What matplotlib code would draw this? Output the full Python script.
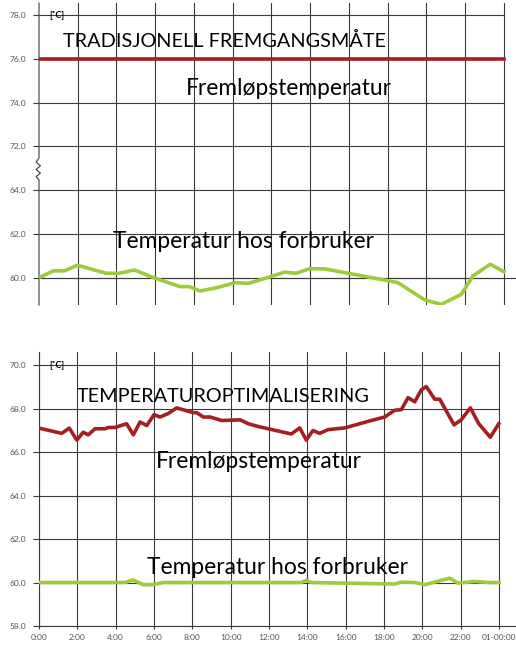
import numpy as np
import matplotlib
matplotlib.use('Agg')
import matplotlib.pyplot as plt

# ---- data ----
hour_ticks = list(range(0, 25, 2))
hour_labels = ['0:00', '2:00', '4:00', '6:00', '8:00', '10:00', '12:00',
               '14:00', '16:00', '18:00', '20:00', '22:00', '01-00:00']

# traditional method
trad_supply_t = [0, 24]
trad_supply = [76.0, 76.0]
trad_user_t = [0, 0.74, 1.31, 1.98, 3.46, 4.14, 4.92, 6.0, 7.28, 7.76, 8.31,
               9.17, 10.12, 10.8, 11.39, 12.68, 13.28, 13.97, 14.75, 15.95,
               17.84, 18.53, 19.91, 20.76, 21.8, 22.4, 23.29, 24.0]
trad_user = [60.0, 60.31, 60.31, 60.57, 60.2, 60.2, 60.35, 59.97, 59.59, 59.59,
             59.39, 59.54, 59.77, 59.74, 59.89, 60.25, 60.2, 60.41, 60.4, 60.2,
             59.89, 59.77, 58.98, 58.78, 59.24, 60.08, 60.61, 60.27]

# temperature optimisation
opt_supply_t = [0, 1.18, 1.58, 1.97, 2.31, 2.57, 2.92, 3.44, 3.61, 3.96, 4.57,
                4.92, 5.27, 5.62, 6.0, 6.31, 6.74, 7.18, 8.05, 8.23, 8.57, 8.92,
                9.53, 10.49, 10.92, 11.45, 13.16, 13.6, 13.94, 14.29, 14.64,
                15.08, 15.51, 15.95, 17.33, 18.03, 18.55, 18.9, 19.25, 19.6,
                19.94, 20.2, 20.64, 20.9, 21.65, 22.03, 22.5, 22.94, 23.54, 23.98]
opt_supply = [67.1, 66.86, 67.1, 66.55, 66.91, 66.79, 67.07, 67.07, 67.13, 67.13,
              67.3, 66.79, 67.38, 67.22, 67.72, 67.61, 67.77, 68.03, 67.81, 67.81,
              67.61, 67.61, 67.45, 67.48, 67.3, 67.17, 66.83, 67.11, 66.55, 66.99,
              66.86, 67.03, 67.07, 67.11, 67.45, 67.61, 67.92, 67.95, 68.5, 68.31,
              68.86, 69.01, 68.43, 68.43, 67.25, 67.49, 68.03, 67.3, 66.68, 67.3]
opt_user_t = [0, 4.49, 4.89, 5.44, 5.96, 6.48, 13.68, 13.94, 14.2, 18.55, 18.9,
              19.6, 20.12, 21.42, 21.86, 22.73, 23.42, 24.0]
opt_user = [60.0, 60.0, 60.12, 59.9, 59.9, 60.0, 60.0, 60.1, 60.0, 59.93, 60.02,
            60.0, 59.9, 60.2, 59.97, 60.05, 60.0, 60.0]

top_yticks = [60, 62, 64, 72, 74, 76, 78]
bot_yticks = [58, 60, 62, 64, 66, 68, 70]

RED = '#a51e22'
GREEN = '#9dcb3a'
GRID = '#3a3a3a'
LBL = '#555555'
FONT = ['Lato', 'DejaVu Sans']
CAPS = 14.3
BODY = 16.4


# broken y axis for the top chart: 64..72 squeezed into one step
def fwd(y):
    y = np.asarray(y, dtype=float)
    return np.where(y <= 64, y, np.where(y >= 72, y - 6, 64 + (y - 64) * 0.25))


def inv(z):
    z = np.asarray(z, dtype=float)
    return np.where(z <= 64, z, np.where(z >= 66, z + 6, 64 + (z - 64) * 4))


fig = plt.figure(figsize=(5.16, 6.45), dpi=100)
ax1 = fig.add_axes([39 / 516, 1 - 305 / 645, 477 / 516, 302 / 645])
ax2 = fig.add_axes([39 / 516, 1 - 626 / 645, 477 / 516, 274 / 645])


def style(ax, yticks, xmax, ybase):
    ax.set_xlim(0, xmax)
    for s in ['top', 'right', 'left']:
        ax.spines[s].set_visible(False)
    ax.spines['bottom'].set_position(('data', ybase))
    ax.spines['bottom'].set_color(GRID)
    ax.spines['bottom'].set_linewidth(0.8)
    ax.set_yticks(yticks)
    ax.set_yticklabels(['%.1f' % v for v in yticks])
    ax.tick_params(axis='y', length=4.5, width=0.8, color=GRID, labelsize=6,
                   labelcolor=LBL, pad=5)
    ax.hlines(yticks, 0, 24, color=GRID, lw=0.8, zorder=1)
    ax.set_xticks(hour_ticks)
    ax.grid(axis='x', color=GRID, lw=0.8, zorder=1)
    for lab in ax.get_yticklabels() + ax.get_xticklabels():
        lab.set_family(FONT)


# ---- top chart ----
ax1.set_yscale('function', functions=(fwd, inv))
ax1.set_ylim(58.75, 78.55)
style(ax1, top_yticks, 24.62, 60)
ax1.tick_params(axis='x', length=0, labelbottom=False)
ax1.get_xgridlines()[0].set_visible(False)
ax1.plot(trad_supply_t, trad_supply, color=RED, lw=2.6, zorder=3)
ax1.plot(trad_user_t, trad_user, color=GREEN, lw=2.6, zorder=3)
# left axis with break mark
zx = np.array([0, 0, -0.006, 0.003, -0.006, 0.003, -0.006, 0, 0])
zy = np.array([0.0, 0.414, 0.425, 0.437, 0.449, 0.461, 0.473, 0.487, 1.0])
ax1.plot(zx, zy, transform=ax1.transAxes, color=GRID, lw=0.8, clip_on=False)

ax1.text(0.52, 78.0, '[˚C]', fontsize=6.5, fontweight='bold', va='center', family=FONT)
ax1.text(1.24, 76.54, 'TRADISJONELL FREMGANGSMÅTE', fontsize=CAPS, family=FONT)
ax1.text(7.59, 74.35, 'Fremløpstemperatur', fontsize=BODY, family=FONT)
ax1.text(3.82, 61.34, 'Temperatur hos forbruker', fontsize=BODY, family=FONT)

# ---- bottom chart ----
ax2.set_ylim(58, 70.6)
style(ax2, bot_yticks, 24.88, 58)
ax2.spines['left'].set_visible(True)
ax2.spines['left'].set_color(GRID)
ax2.spines['left'].set_linewidth(0.8)
ax2.set_xticklabels(hour_labels)
ax2.tick_params(axis='x', length=2.5, width=0.8, color=GRID, labelsize=6,
                labelcolor=LBL, pad=3)
ax2.plot(opt_supply_t, opt_supply, color=RED, lw=2.6, zorder=3)
ax2.plot(opt_user_t, opt_user, color=GREEN, lw=2.6, zorder=3)

ax2.text(0.52, 70.0, '[˚C]', fontsize=6.5, fontweight='bold', va='center', family=FONT)
ax2.text(1.98, 68.3, 'TEMPERATUROPTIMALISERING', fontsize=CAPS, family=FONT)
ax2.text(6.1, 65.26, 'Fremløpstemperatur', fontsize=BODY, family=FONT)
ax2.text(5.63, 60.39, 'Temperatur hos forbruker', fontsize=BODY, family=FONT)

fig.savefig('out.png', dpi=100)
